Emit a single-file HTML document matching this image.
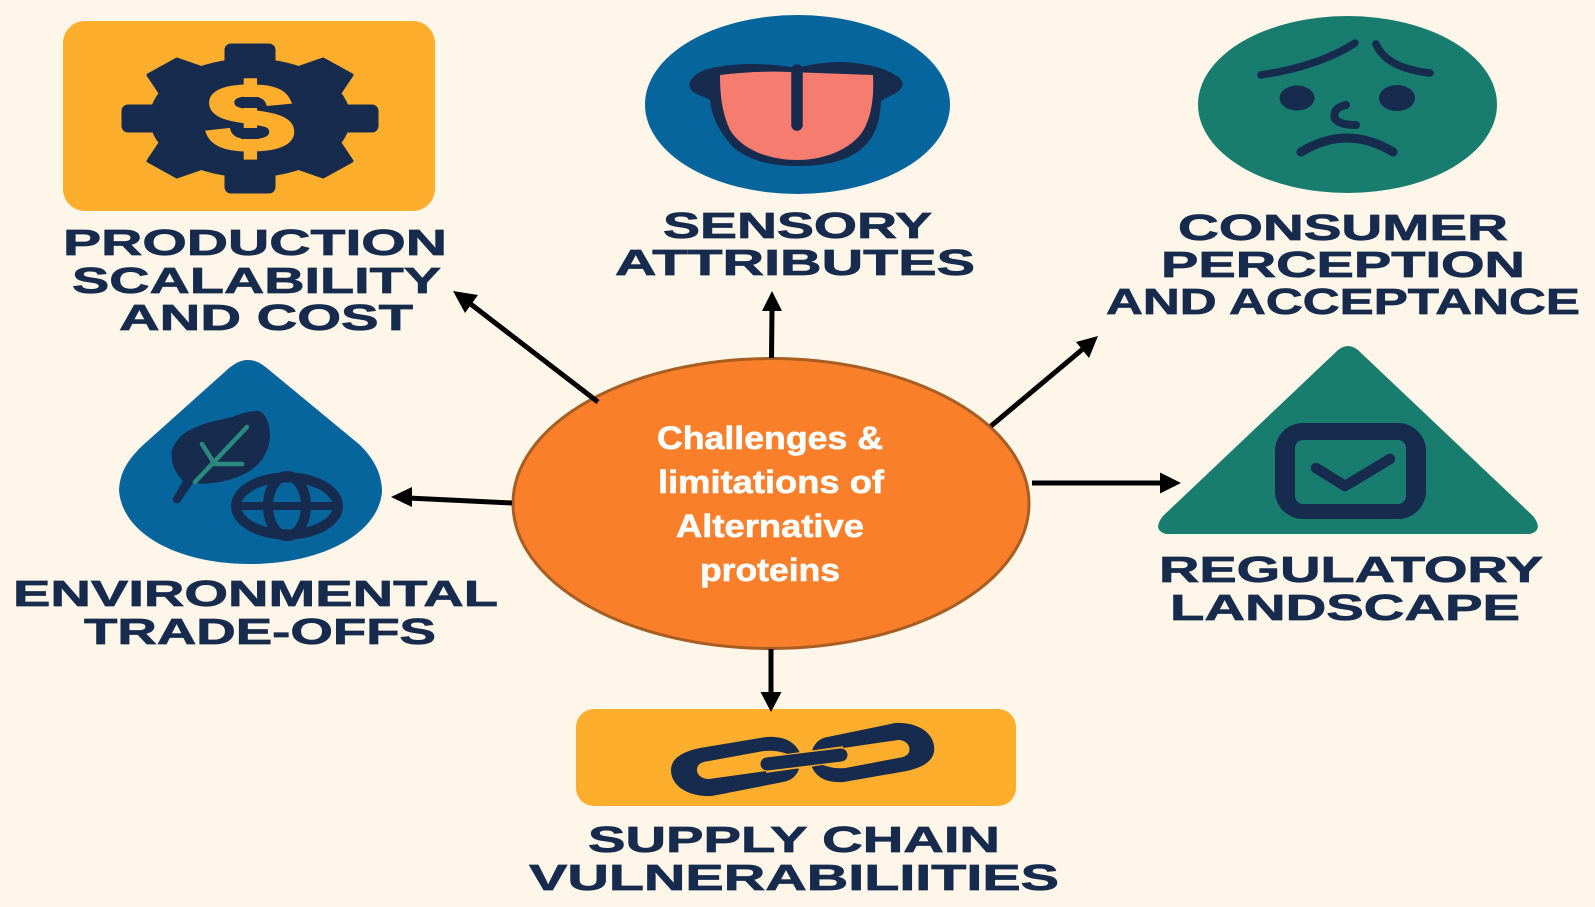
<!DOCTYPE html>
<html><head><meta charset="utf-8"><style>
html,body{margin:0;padding:0;background:#fef6e8}
svg{display:block}
.l{font-family:"Liberation Sans",sans-serif;font-weight:700;font-size:36px;fill:#162b4d;stroke:#162b4d;stroke-width:.7px}
.c{font-family:"Liberation Sans",sans-serif;font-weight:700;font-size:32px;fill:#fff;stroke:#fff;stroke-width:.6px}
</style></head><body>
<svg width="1595" height="907" viewBox="0 0 1595 907" xmlns="http://www.w3.org/2000/svg">
<rect width="1595" height="907" fill="#fef6e8"/>

<!-- production -->
<rect x="63" y="21" width="372" height="190" rx="22" fill="#fdae2d"/>
<g fill="#162b4d" stroke="#162b4d" stroke-width="3" stroke-linejoin="round">
<ellipse cx="250" cy="118" rx="99" ry="58"/>
<rect x="226" y="45" width="48" height="22" rx="5"/>
<rect x="226" y="169" width="48" height="23" rx="5"/>
<rect x="123" y="106" width="34" height="25" rx="5"/>
<rect x="343" y="106" width="34" height="25" rx="5"/>
<polygon points="148,75 177,59 200,67 160,93"/>
<polygon points="352,75 323,59 300,67 340,93"/>
<polygon points="148,161 177,177 200,169 160,143"/>
<polygon points="352,161 323,177 300,169 340,143"/>
</g>
<text x="206" y="151" font-family="'Liberation Sans',sans-serif" font-weight="700" font-size="96" fill="#fdae2d" stroke="#fdae2d" stroke-width="3" textLength="88" lengthAdjust="spacingAndGlyphs">$</text>
<rect x="241" y="97" width="18" height="11" fill="#162b4d"/>
<rect x="241" y="128" width="18" height="11" fill="#162b4d"/>

<!-- sensory -->
<ellipse cx="797.5" cy="104.5" rx="152.5" ry="89.5" fill="#07659d"/>
<path d="M690 82 C694 73 705 69 717 67 C745 62 775 64 797 68 C815 63 830 62 843 62 C865 63 885 68 895 75 C903 79 904 85 901 88 C898 94 888 96 881 101 C880 125 873 140 860 150 C845 162 822 166 797 166 C770 166 748 160 733 147 C720 133 712 118 710 100 C704 96 696 95 692 91 C689 88 689 85 690 82Z" fill="#162b4d"/>
<path d="M720 75 C745 72 770 71 790 72 L873 75 C874 95 872 112 866 125 C858 145 830 160 797 160 C765 160 740 147 730 130 C722 113 720 95 720 75Z" fill="#f57c6e"/>
<path d="M797 70 V125" stroke="#162b4d" stroke-width="11.5" stroke-linecap="round" fill="none"/>

<!-- consumer -->
<ellipse cx="1347.5" cy="104.5" rx="149.5" ry="88.5" fill="#187c6f"/>
<g stroke="#162b4d" fill="none" stroke-linecap="round">
<path d="M1261 75 Q1320 66 1355 43" stroke-width="7.5"/>
<path d="M1376 44 Q1386 68 1430 73" stroke-width="7.5"/>
<path d="M1346 105 Q1332 108 1335 119 Q1340 125 1356 125" stroke-width="8"/>
<path d="M1301 152 Q1347 124 1393 152" stroke-width="9"/>
</g>
<ellipse cx="1297" cy="98" rx="17.5" ry="12.5" fill="#162b4d"/>
<ellipse cx="1397" cy="98" rx="18" ry="13" fill="#162b4d"/>

<!-- environmental -->
<path d="M248 360 C256 360 262 364 268 369 L360 445 C375 460 382 475 382 492 C378 535 320 564 250 564 C180 564 122 535 119 490 C120 470 130 458 142 446 L228 369 C234 364 240 360 248 360Z" fill="#07659d"/>
<path d="M258 411 C266 412 270 425 270 437 C268 458 255 470 240 476 C225 482 208 485 193 483 L180 502 C176 505 172 502 173 498 L183 481 C174 472 170 460 172 450 C176 440 182 434 190 430 C205 422 220 420 232 417 C242 413 250 411 258 411Z" fill="#162b4d"/>
<g stroke="#2a8a7c" stroke-width="4.5" stroke-linecap="round" fill="none">
<path d="M195 482 L247 427"/><path d="M202 444 L214 463"/><path d="M214 464 L242 464"/>
</g>
<g stroke="#162b4d" fill="none">
<ellipse cx="287" cy="506" rx="51" ry="28.5" stroke-width="10"/>
<ellipse cx="287" cy="506" rx="19" ry="30" stroke-width="10"/>
<path d="M238 506 H336" stroke-width="8"/>
</g>

<!-- regulatory -->
<path d="M1337 351 Q1348 341 1359 351 L1533 516 Q1544 530 1530 534 L1166 534 Q1152 530 1163 516Z" fill="#187c6f"/>
<rect x="1275" y="423" width="151" height="96" rx="28" fill="#162b4d"/>
<rect x="1295" y="440" width="111" height="64" rx="8" fill="#187c6f"/>
<path d="M1316 468 L1345 486 L1390 459" stroke="#162b4d" stroke-width="10.5" stroke-linecap="round" stroke-linejoin="round" fill="none"/>

<!-- supply -->
<rect x="576" y="709" width="440" height="97" rx="18" fill="#fdae2d"/>
<path d="M800 753 C794 740 782 736 766 737 L700 748 C680 752 671 760 671 770 C671 786 688 797 712 796 L783 782 C790 781 796 777 799 769 L795 767 L709 779 C702 779 697 775 697 770 C697 765 700 762 709 761 L764 751 C775 750 783 752 790 755Z" fill="#162b4d"/>
<path d="M800 753 C794 740 782 736 766 737 L700 748 C680 752 671 760 671 770 C671 786 688 797 712 796 L783 782 C790 781 796 777 799 769 L795 767 L709 779 C702 779 697 775 697 770 C697 765 700 762 709 761 L764 751 C775 750 783 752 790 755Z" fill="#162b4d" transform="matrix(-0.953 0 0 -1 1573.7 1519)"/>
<path d="M765 765 L844 754" stroke="#fdae2d" stroke-width="16" fill="none"/>
<path d="M767 764 L841 755" stroke="#162b4d" stroke-width="13" stroke-linecap="round" fill="none"/>

<!-- centre -->
<ellipse cx="771" cy="503.5" rx="258" ry="145" fill="#f97f2a" stroke="#a85d22" stroke-width="3"/>
<text class="c" x="657" y="449" textLength="226" lengthAdjust="spacingAndGlyphs">Challenges &amp;</text>
<text class="c" x="658" y="493" textLength="226" lengthAdjust="spacingAndGlyphs">limitations of</text>
<text class="c" x="676" y="537" textLength="188" lengthAdjust="spacingAndGlyphs">Alternative</text>
<text class="c" x="700" y="581" textLength="140" lengthAdjust="spacingAndGlyphs">proteins</text>

<!-- arrows -->
<g stroke="#000" stroke-width="5" fill="none">
<path d="M598 402 L468 302"/>
<path d="M771.5 358 L772 308"/>
<path d="M991 426 L1084 348"/>
<path d="M512 503 L408 498"/>
<path d="M1032 483 H1164"/>
<path d="M771 649 V696"/>
</g>
<g fill="#000">
<polygon points="453,291 478,295 465,313"/>
<polygon points="772,291 782,311 762,311"/>
<polygon points="1098,336 1089,358 1076,342"/>
<polygon points="391,497 412,487 412,507"/>
<polygon points="1181,483 1160,472.5 1160,493.5"/>
<polygon points="771,712 760.5,692 781.5,692"/>
</g>

<!-- labels -->
<g class="l">
<text class="l" x="63" y="255" textLength="384" lengthAdjust="spacingAndGlyphs">PRODUCTION</text>
<text class="l" x="72" y="293" textLength="369" lengthAdjust="spacingAndGlyphs">SCALABILITY</text>
<text class="l" x="119" y="330" textLength="294" lengthAdjust="spacingAndGlyphs">AND COST</text>
<text class="l" x="663" y="238" textLength="269" lengthAdjust="spacingAndGlyphs">SENSORY</text>
<text class="l" x="615" y="275" textLength="360" lengthAdjust="spacingAndGlyphs">ATTRIBUTES</text>
<text class="l" x="1178" y="240" textLength="330" lengthAdjust="spacingAndGlyphs">CONSUMER</text>
<text class="l" x="1161" y="277" textLength="364" lengthAdjust="spacingAndGlyphs">PERCEPTION</text>
<text class="l" x="1106" y="314" textLength="474" lengthAdjust="spacingAndGlyphs">AND ACCEPTANCE</text>
<text class="l" x="13" y="606" textLength="485" lengthAdjust="spacingAndGlyphs">ENVIRONMENTAL</text>
<text class="l" x="84" y="644" textLength="352" lengthAdjust="spacingAndGlyphs">TRADE-OFFS</text>
<text class="l" x="1159" y="582" textLength="384" lengthAdjust="spacingAndGlyphs">REGULATORY</text>
<text class="l" x="1170" y="620" textLength="350" lengthAdjust="spacingAndGlyphs">LANDSCAPE</text>
<text class="l" x="588" y="852" textLength="412" lengthAdjust="spacingAndGlyphs">SUPPLY CHAIN</text>
<text class="l" x="529" y="890" textLength="530" lengthAdjust="spacingAndGlyphs">VULNERABILIITIES</text>
</g>
</svg>
</body></html>
